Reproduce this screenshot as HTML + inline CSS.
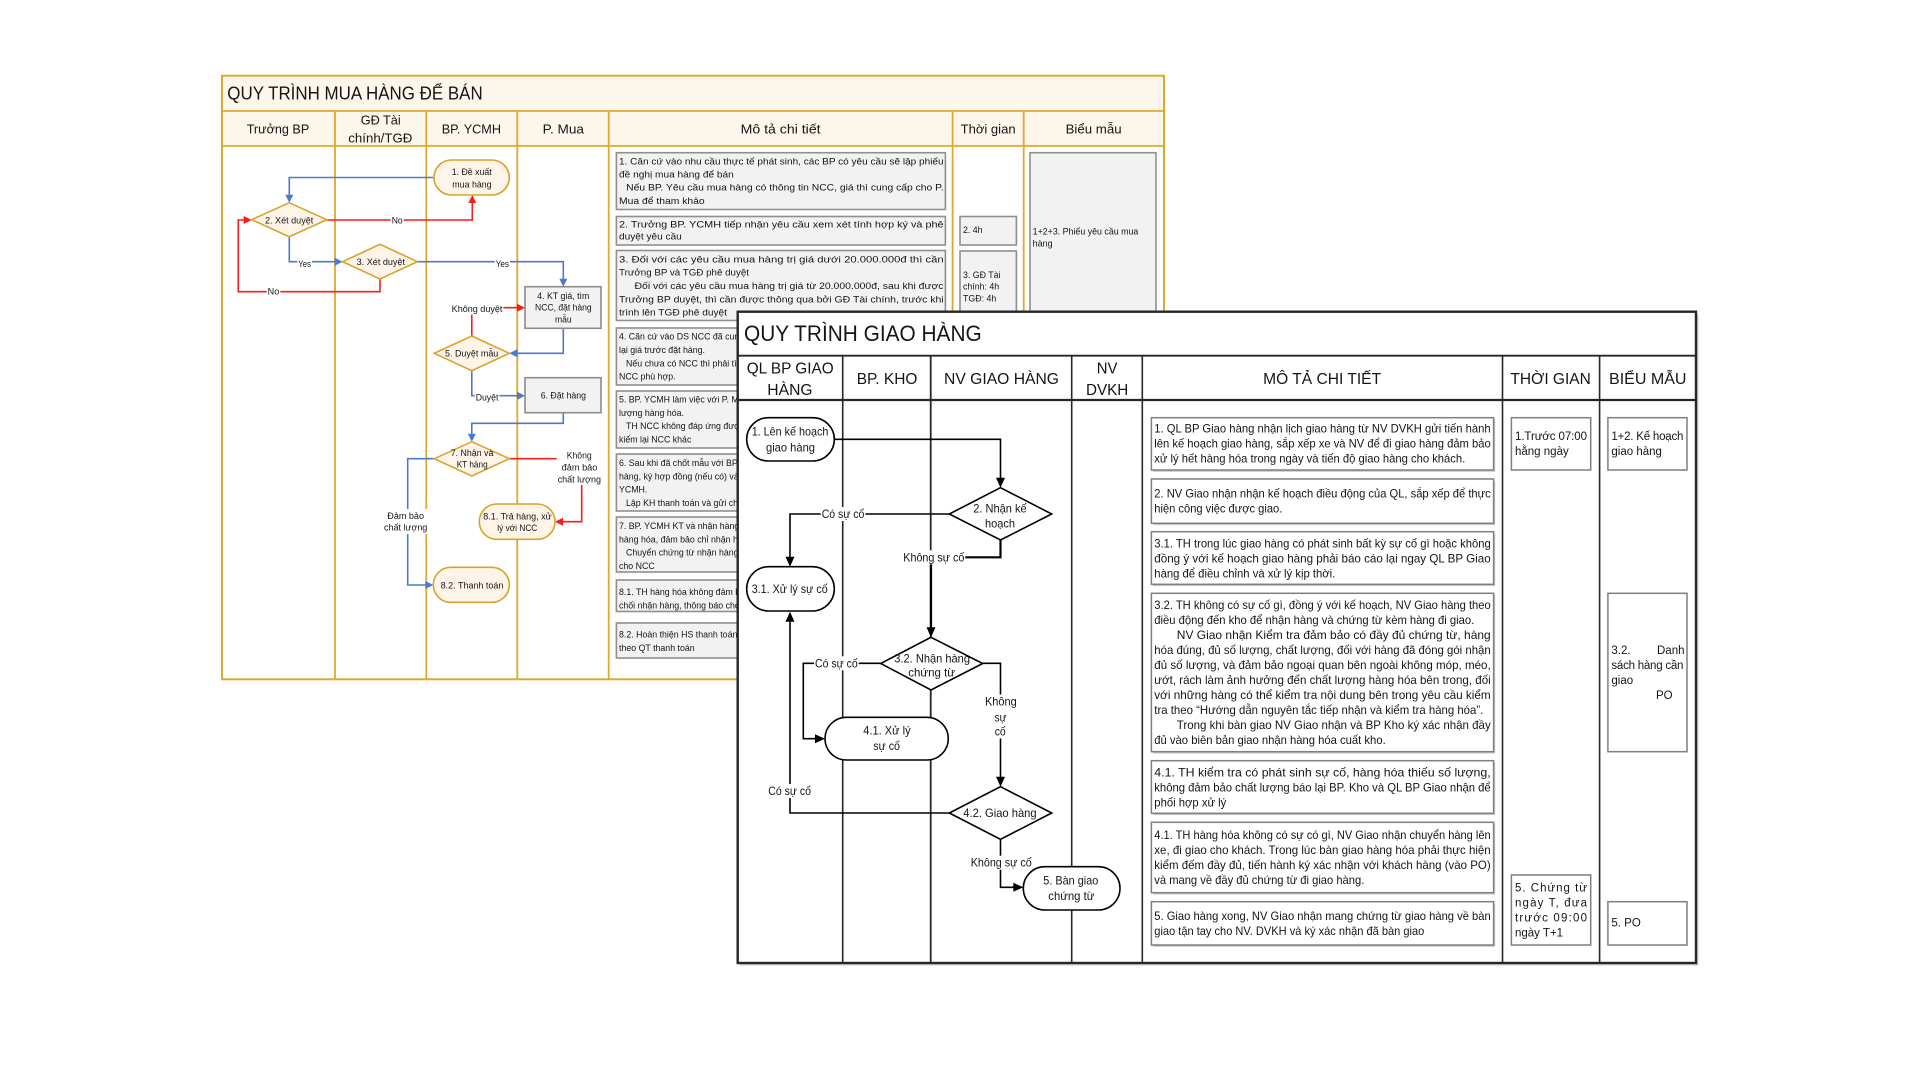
<!DOCTYPE html>
<html>
<head>
<meta charset="utf-8">
<style>
html,body{margin:0;padding:0;background:#fff;width:1920px;height:1080px;overflow:hidden}
svg{display:block}
text{font-family:"Liberation Sans","DejaVu Sans",sans-serif;fill:#151515}
.b9{font-size:9px}
.b88{font-size:8.8px}
.f12{font-size:12px}
.h13{font-size:13px}
.h15{font-size:15.5px}
</style>
</head>
<body>
<svg width="1920" height="1080" viewBox="0 0 1920 1080" xmlns="http://www.w3.org/2000/svg">
<rect x="0" y="0" width="1920" height="1080" fill="#fff"/>

<!-- ================= BACK DIAGRAM ================= -->
<g>
  <rect x="222" y="75.7" width="942" height="603.6" fill="#fff"/>
  <rect x="222" y="75.7" width="942" height="70.3" fill="#fdf6ea"/>
  <g stroke="#e0a82e" stroke-width="1.8" fill="none">
    <line x1="222" y1="111" x2="1164" y2="111"/>
    <line x1="222" y1="146" x2="1164" y2="146"/>
    <line x1="335" y1="111" x2="335" y2="679.3"/>
    <line x1="426.3" y1="111" x2="426.3" y2="679.3"/>
    <line x1="517.3" y1="111" x2="517.3" y2="679.3"/>
    <line x1="608.7" y1="111" x2="608.7" y2="679.3"/>
    <line x1="952.6" y1="111" x2="952.6" y2="679.3"/>
    <line x1="1023.7" y1="111" x2="1023.7" y2="679.3"/>
    <rect x="222" y="75.7" width="942" height="603.6" stroke-width="2"/>
  </g>
  <text x="227.3" y="99.3" style="font-size:18px" textLength="255.4" lengthAdjust="spacingAndGlyphs">QUY TRÌNH MUA HÀNG ĐỂ BÁN</text>
  <text class="h13" x="246.7" y="133.5" textLength="62.6" lengthAdjust="spacingAndGlyphs">Trưởng BP</text>
  <text class="h13" x="360.7" y="124.5" textLength="40" lengthAdjust="spacingAndGlyphs">GĐ Tài</text>
  <text class="h13" x="348.3" y="142.5" textLength="64" lengthAdjust="spacingAndGlyphs">chính/TGĐ</text>
  <text class="h13" x="441.7" y="133.5" textLength="59.3" lengthAdjust="spacingAndGlyphs">BP. YCMH</text>
  <text class="h13" x="542.7" y="133.5" textLength="41.3" lengthAdjust="spacingAndGlyphs">P. Mua</text>
  <text class="h13" x="740.6" y="133.5" textLength="80" lengthAdjust="spacingAndGlyphs">Mô tả chi tiết</text>
  <text class="h13" x="960.6" y="133.5" textLength="55" lengthAdjust="spacingAndGlyphs">Thời gian</text>
  <text class="h13" x="1065.6" y="133.5" textLength="56" lengthAdjust="spacingAndGlyphs">Biểu mẫu</text>

  <g fill="none" stroke-width="1.6">
    <path d="M434,177.5 H289.3 V196" stroke="#4a7ac8"/>
    <path d="M326.7,220 H472.3 V202" stroke="#ff1a1a"/>
    <path d="M289.3,236.7 V261.7 H336" stroke="#4a7ac8"/>
    <path d="M417.3,261.7 H563.3 V280" stroke="#4a7ac8"/>
    <path d="M380,279 V291.7 H238.3 V220 H245" stroke="#ff1a1a"/>
    <path d="M471.8,336 V307.7 H518" stroke="#ff1a1a"/>
    <path d="M563.3,328.3 V353.3 H516" stroke="#4a7ac8"/>
    <path d="M471.8,370.7 V395.7 H518" stroke="#4a7ac8"/>
    <path d="M563.3,412.7 V423.3 H471.8 V435" stroke="#4a7ac8"/>
    <path d="M434.3,458.7 H407.7 V585 H427" stroke="#4a7ac8"/>
    <path d="M509.3,458.7 H581.7 V521.7 H562" stroke="#ff1a1a"/>
  </g>
  <g>
    <polygon points="285.3,194.7 293.3,194.7 289.3,202.7" fill="#4a7ac8"/>
    <polygon points="468.3,203 476.3,203 472.3,195" fill="#ff1a1a"/>
    <polygon points="334.7,257.7 334.7,265.7 342.7,261.7" fill="#4a7ac8"/>
    <polygon points="559.3,278.7 567.3,278.7 563.3,286.7" fill="#4a7ac8"/>
    <polygon points="243.7,216 243.7,224 251.7,220" fill="#ff1a1a"/>
    <polygon points="517,303.7 517,311.7 525,307.7" fill="#ff1a1a"/>
    <polygon points="517.3,349.3 517.3,357.3 509.3,353.3" fill="#4a7ac8"/>
    <polygon points="517,391.7 517,399.7 525,395.7" fill="#4a7ac8"/>
    <polygon points="467.8,433.7 475.8,433.7 471.8,441.7" fill="#4a7ac8"/>
    <polygon points="425.3,581 425.3,589 433.3,585" fill="#4a7ac8"/>
    <polygon points="563,517.7 563,525.7 555,521.7" fill="#ff1a1a"/>
  </g>
  <g fill="#fff">
    <rect x="390.7" y="214" width="13" height="12"/>
    <rect x="297.3" y="258" width="14.7" height="12"/>
    <rect x="494.7" y="258" width="15.3" height="12"/>
    <rect x="266.7" y="285.5" width="13.6" height="12"/>
    <rect x="450.7" y="302.5" width="52.7" height="12"/>
    <rect x="474.7" y="391" width="24.7" height="12"/>
    <rect x="383" y="509" width="45.3" height="25"/>
    <rect x="556.7" y="448" width="45.3" height="37"/>
  </g>
  <g class="b9">
    <text x="391.7" y="223.3" textLength="11" lengthAdjust="spacingAndGlyphs">No</text>
    <text x="298.3" y="267" textLength="12.7" lengthAdjust="spacingAndGlyphs">Yes</text>
    <text x="495.7" y="267" textLength="13.3" lengthAdjust="spacingAndGlyphs">Yes</text>
    <text x="267.7" y="294.5" textLength="11.6" lengthAdjust="spacingAndGlyphs">No</text>
    <text x="451.7" y="312" textLength="50.7" lengthAdjust="spacingAndGlyphs">Không duyệt</text>
    <text x="475.7" y="400.6" textLength="22.7" lengthAdjust="spacingAndGlyphs">Duyệt</text>
    <text x="387.3" y="519" textLength="36.7" lengthAdjust="spacingAndGlyphs">Đảm bảo</text>
    <text x="384" y="530.6" textLength="43.3" lengthAdjust="spacingAndGlyphs">chất lượng</text>
    <text x="566.7" y="458.3" textLength="25" lengthAdjust="spacingAndGlyphs">Không</text>
    <text x="561.7" y="470.3" textLength="35.7" lengthAdjust="spacingAndGlyphs">đảm bảo</text>
    <text x="557.7" y="482.3" textLength="43.3" lengthAdjust="spacingAndGlyphs">chất lượng</text>
  </g>

  <g stroke="#d9a22a" stroke-width="1.6" fill="#fef5e8">
    <rect x="434" y="160" width="75.3" height="35" rx="17.5"/>
    <polygon points="289.2,202.7 326.7,219.7 289.2,236.7 251.7,219.7"/>
    <polygon points="380,244.3 417.3,261.7 380,279 342.7,261.7"/>
    <polygon points="471.8,336 509.3,353.3 471.8,370.7 434.3,353.3"/>
    <polygon points="471.8,441.7 509.3,458.7 471.8,476 434.3,458.7"/>
    <rect x="479.3" y="504" width="75.7" height="35.3" rx="17.6"/>
    <rect x="433.3" y="567.3" width="76" height="35" rx="17.5"/>
  </g>
  <g stroke="#8c8c8c" stroke-width="1.6" fill="#f2f2f2">
    <rect x="525" y="286.7" width="76" height="41.6"/>
    <rect x="525" y="377.7" width="76" height="35"/>
  </g>
  <g class="b9">
    <text x="451.7" y="175" textLength="40" lengthAdjust="spacingAndGlyphs">1. Đề xuất</text>
    <text x="452.3" y="187.3" textLength="39.3" lengthAdjust="spacingAndGlyphs">mua hàng</text>
    <text x="265" y="223.3" textLength="48.3" lengthAdjust="spacingAndGlyphs">2. Xét duyệt</text>
    <text x="356.7" y="265" textLength="48.3" lengthAdjust="spacingAndGlyphs">3. Xét duyệt</text>
    <text x="537.3" y="299" textLength="52" lengthAdjust="spacingAndGlyphs">4. KT giá, tìm</text>
    <text x="535" y="310.6" textLength="56.7" lengthAdjust="spacingAndGlyphs">NCC, đặt hàng</text>
    <text x="555" y="322.3" textLength="16.7" lengthAdjust="spacingAndGlyphs">mẫu</text>
    <text x="445" y="356.6" textLength="53.3" lengthAdjust="spacingAndGlyphs">5. Duyệt mẫu</text>
    <text x="540.7" y="398.3" textLength="45.3" lengthAdjust="spacingAndGlyphs">6. Đặt hàng</text>
    <text x="450.7" y="456" textLength="42.7" lengthAdjust="spacingAndGlyphs">7. Nhận và</text>
    <text x="456.7" y="467.6" textLength="31" lengthAdjust="spacingAndGlyphs">KT hàng</text>
    <text x="483.3" y="519.3" textLength="68.3" lengthAdjust="spacingAndGlyphs">8.1. Trả hàng, xử</text>
    <text x="497.3" y="531" textLength="40" lengthAdjust="spacingAndGlyphs">lý với NCC</text>
    <text x="440.7" y="588.3" textLength="62.7" lengthAdjust="spacingAndGlyphs">8.2. Thanh toán</text>
  </g>

  <g stroke="#8f8f8f" stroke-width="1.6" fill="#f2f2f2">
    <rect x="616.4" y="152.7" width="329" height="56.8"/>
    <rect x="616.4" y="216.5" width="329" height="28.5"/>
    <rect x="616.4" y="250.5" width="329" height="70"/>
    <rect x="616.4" y="328" width="329" height="57"/>
    <rect x="616.4" y="391" width="329" height="57"/>
    <rect x="616.4" y="454" width="329" height="57"/>
    <rect x="616.4" y="517" width="329" height="55"/>
    <rect x="616.4" y="580" width="329" height="31.5"/>
    <rect x="616.4" y="623" width="329" height="35"/>
    <rect x="960" y="216.5" width="56.4" height="28.5"/>
    <rect x="960" y="251" width="56.4" height="90"/>
    <rect x="1030" y="152.7" width="126" height="200"/>
  </g>
  <g class="b88">
    <text x="619" y="164.7" textLength="324.6" lengthAdjust="spacingAndGlyphs">1. Căn cứ vào nhu cầu thực tế phát sinh, các BP có yêu cầu sẽ lập phiếu</text>
    <text x="619" y="177.3" textLength="114.8" lengthAdjust="spacingAndGlyphs">đề nghị mua hàng để bán</text>
    <text x="626.2" y="190.7" textLength="317.4" lengthAdjust="spacingAndGlyphs">Nếu BP. Yêu cầu mua hàng có thông tin NCC, giá thì cung cấp cho P.</text>
    <text x="619" y="204" textLength="85.7" lengthAdjust="spacingAndGlyphs">Mua để tham khảo</text>
    <text x="619" y="227.3" textLength="324.6" lengthAdjust="spacingAndGlyphs">2. Trưởng BP. YCMH tiếp nhận yêu cầu xem xét tính hợp ký và phê</text>
    <text x="619" y="239.7" textLength="62.8" lengthAdjust="spacingAndGlyphs">duyệt yêu cầu</text>
    <text x="619" y="262.3" textLength="324.6" lengthAdjust="spacingAndGlyphs">3. Đối với các yêu cầu mua hàng trị giá dưới 20.000.000đ thì cần</text>
    <text x="619" y="275.7" textLength="130" lengthAdjust="spacingAndGlyphs">Trưởng BP và TGĐ phê duyệt</text>
    <text x="634.5" y="289" textLength="309" lengthAdjust="spacingAndGlyphs">Đối với các yêu cầu mua hàng trị giá từ 20.000.000đ, sau khi được</text>
    <text x="619" y="302.3" textLength="324.6" lengthAdjust="spacingAndGlyphs">Trưởng BP duyệt, thì cần được thông qua bởi GĐ Tài chính, trước khi</text>
    <text x="619" y="315.7" textLength="108" lengthAdjust="spacingAndGlyphs">trình lên TGĐ phê duyệt</text>

    <text x="619" y="339.7">4. Căn cứ vào DS NCC đã cung cấp, P. Mua tiến hành đàm phán</text>
    <text x="619" y="352.8">lại giá trước đặt hàng.</text>
    <text x="626" y="366.3">Nếu chưa có NCC thì phải tìm kiếm, lựa chọn các</text>
    <text x="619" y="379.3">NCC phù hợp.</text>
    <text x="619" y="402.6">5. BP. YCMH làm việc với P. Mua để xác nhận mẫu, chất</text>
    <text x="619" y="416">lượng hàng hóa.</text>
    <text x="626" y="429">TH NCC không đáp ứng được yêu cầu, P. Mua tìm</text>
    <text x="619" y="442.6">kiếm lại NCC khác</text>
    <text x="619" y="465.9">6. Sau khi đã chốt mẫu với BP. YCMH, P. Mua đặt</text>
    <text x="619" y="479.3">hàng, ký hợp đồng (nếu có) và thông báo cho BP.</text>
    <text x="619" y="492.4">YCMH.</text>
    <text x="626" y="505.9">Lập KH thanh toán và gửi cho BP. Kế toán</text>
    <text x="619" y="529">7. BP. YCMH KT và nhận hàng, đảm bảo số lượng</text>
    <text x="619" y="542.6">hàng hóa, đảm bảo chỉ nhận hàng đạt yêu cầu.</text>
    <text x="626" y="555.7">Chuyển chứng từ nhận hàng cho P. Mua</text>
    <text x="619" y="569">cho NCC</text>
    <text x="619" y="594.8">8.1. TH hàng hóa không đảm bảo chất lượng, từ</text>
    <text x="619" y="608.3">chối nhận hàng, thông báo cho P. Mua</text>
    <text x="619" y="637.3">8.2. Hoàn thiện HS thanh toán, chuyển cho Kế toán</text>
    <text x="619" y="650.8">theo QT thanh toán</text>

    <text x="963" y="233">2. 4h</text>
    <text x="963" y="278">3. GĐ Tài</text>
    <text x="963" y="289.7">chính: 4h</text>
    <text x="963" y="301.3">TGĐ: 4h</text>
    <text x="1032.7" y="234.7" textLength="105.6" lengthAdjust="spacingAndGlyphs">1+2+3. Phiếu yêu cầu mua</text>
    <text x="1032.7" y="246.3" textLength="20" lengthAdjust="spacingAndGlyphs">hàng</text>
  </g>
</g>

<!-- ================= FRONT DIAGRAM ================= -->
<g>
  <rect x="740" y="314" width="958.5" height="651.5" fill="#cfcfcf"/>
  <rect x="737.7" y="311.7" width="958.3" height="651.3" fill="#fff"/>
  <g stroke="#262626" fill="none">
    <line x1="737.7" y1="355.7" x2="1696" y2="355.7" stroke-width="1.8"/>
    <line x1="737.7" y1="400" x2="1696" y2="400" stroke-width="2.2"/>
    <line x1="842.7" y1="355.7" x2="842.7" y2="963" stroke-width="1.6"/>
    <line x1="930.7" y1="355.7" x2="930.7" y2="963" stroke-width="1.8"/>
    <line x1="1071.7" y1="355.7" x2="1071.7" y2="963" stroke-width="1.6"/>
    <line x1="1142.3" y1="355.7" x2="1142.3" y2="963" stroke-width="1.6"/>
    <line x1="1502.5" y1="355.7" x2="1502.5" y2="963" stroke-width="1.6"/>
    <line x1="1599.6" y1="355.7" x2="1599.6" y2="963" stroke-width="1.6"/>
    <rect x="737.7" y="311.7" width="958.3" height="651.3" stroke-width="2.4"/>
  </g>
  <text x="744" y="341" style="font-size:22px" textLength="237.7" lengthAdjust="spacingAndGlyphs">QUY TRÌNH GIAO HÀNG</text>
  <g class="h15">
    <text x="746.7" y="373.3" textLength="87" lengthAdjust="spacingAndGlyphs">QL BP GIAO</text>
    <text x="767.3" y="395" textLength="45.3" lengthAdjust="spacingAndGlyphs">HÀNG</text>
    <text x="856.7" y="384" textLength="60.7" lengthAdjust="spacingAndGlyphs">BP. KHO</text>
    <text x="944" y="384" textLength="115" lengthAdjust="spacingAndGlyphs">NV GIAO HÀNG</text>
    <text x="1096.7" y="373.3" textLength="20.7" lengthAdjust="spacingAndGlyphs">NV</text>
    <text x="1086" y="395" textLength="42.3" lengthAdjust="spacingAndGlyphs">DVKH</text>
    <text x="1263.2" y="384" textLength="117.9" lengthAdjust="spacingAndGlyphs">MÔ TẢ CHI TIẾT</text>
    <text x="1510.4" y="384" textLength="80.4" lengthAdjust="spacingAndGlyphs">THỜI GIAN</text>
    <text x="1609" y="384" textLength="77.5" lengthAdjust="spacingAndGlyphs">BIỂU MẪU</text>
  </g>

  <g fill="none" stroke="#000" stroke-width="1.6">
    <path d="M834.3,439.3 H1000.5 V479"/>
    <path d="M949.3,514 H790 V558"/>
    <path d="M1000.5,540 V557.3 H931 V628" stroke-width="2.2"/>
    <path d="M880.7,663.3 H803.3 V738.7 H816"/>
    <path d="M982.7,663.3 H1000.5 V778"/>
    <path d="M949.3,813 H790 V620"/>
    <path d="M1000.5,839.3 V887.3 H1014"/>
  </g>
  <g fill="#000">
    <polygon points="996,477.7 1005,477.7 1000.5,487.7"/>
    <polygon points="785.5,556.7 794.5,556.7 790,566.7"/>
    <polygon points="926.5,627.3 935.5,627.3 931,637.3"/>
    <polygon points="815,734.2 815,743.2 825,738.7"/>
    <polygon points="996,776.7 1005,776.7 1000.5,786.7"/>
    <polygon points="785.5,621.7 794.5,621.7 790,611.7"/>
    <polygon points="1013.3,882.8 1013.3,891.8 1023.3,887.3"/>
  </g>
  <g fill="#fff">
    <rect x="820.7" y="507" width="44.7" height="14"/>
    <rect x="902.3" y="550.3" width="63" height="14"/>
    <rect x="814" y="656.3" width="44.7" height="14"/>
    <rect x="983.5" y="694.5" width="34.7" height="44"/>
    <rect x="767.3" y="784" width="44.7" height="14"/>
    <rect x="969.7" y="855.7" width="63" height="14"/>
  </g>
  <g class="f12">
    <text x="821.7" y="518" textLength="42.7" lengthAdjust="spacingAndGlyphs">Có sự cố</text>
    <text x="903.3" y="561.3" textLength="61" lengthAdjust="spacingAndGlyphs">Không sự cố</text>
    <text x="815" y="667.3" textLength="42.7" lengthAdjust="spacingAndGlyphs">Có sự cố</text>
    <text x="985" y="705.7" textLength="31.7" lengthAdjust="spacingAndGlyphs">Không</text>
    <text x="994.5" y="721.3" textLength="12" lengthAdjust="spacingAndGlyphs">sự</text>
    <text x="994.7" y="735.7" textLength="11" lengthAdjust="spacingAndGlyphs">cố</text>
    <text x="768.3" y="795" textLength="42.7" lengthAdjust="spacingAndGlyphs">Có sự cố</text>
    <text x="970.7" y="866.7" textLength="61" lengthAdjust="spacingAndGlyphs">Không sự cố</text>
  </g>

  <g stroke="#000" stroke-width="1.6" fill="#fff">
    <rect x="746.7" y="417.7" width="87.6" height="43.3" rx="21.6"/>
    <polygon points="1000.5,487.7 1051.7,514 1000.5,540 949.3,514"/>
    <rect x="746.7" y="566.7" width="87.6" height="44.3" rx="22"/>
    <polygon points="931,637.3 982.7,663.5 931,690 880.7,663.5"/>
    <rect x="825" y="717.3" width="123.3" height="42.7" rx="21.3"/>
    <polygon points="1000.5,786.7 1051.7,813 1000.5,839.3 949.3,813"/>
    <rect x="1023.3" y="866.7" width="96.7" height="43.3" rx="21.6"/>
  </g>
  <g class="f12">
    <text x="751.7" y="435.7" textLength="76.7" lengthAdjust="spacingAndGlyphs">1. Lên kế hoạch</text>
    <text x="766" y="451.3" textLength="49" lengthAdjust="spacingAndGlyphs">giao hàng</text>
    <text x="973.3" y="512.3" textLength="53.3" lengthAdjust="spacingAndGlyphs">2. Nhận kế</text>
    <text x="985" y="527.3" textLength="30" lengthAdjust="spacingAndGlyphs">hoạch</text>
    <text x="751.7" y="593" textLength="76" lengthAdjust="spacingAndGlyphs">3.1. Xử lý sự cố</text>
    <text x="894.3" y="662.3" textLength="75.7" lengthAdjust="spacingAndGlyphs">3.2. Nhận hàng</text>
    <text x="908.3" y="676.7" textLength="46.7" lengthAdjust="spacingAndGlyphs">chứng từ</text>
    <text x="863.3" y="734.7" textLength="47.3" lengthAdjust="spacingAndGlyphs">4.1. Xử lý</text>
    <text x="873.3" y="750" textLength="26.7" lengthAdjust="spacingAndGlyphs">sự cố</text>
    <text x="963.3" y="817" textLength="73.3" lengthAdjust="spacingAndGlyphs">4.2. Giao hàng</text>
    <text x="1043.3" y="884.7" textLength="55" lengthAdjust="spacingAndGlyphs">5. Bàn giao</text>
    <text x="1048.3" y="900" textLength="46" lengthAdjust="spacingAndGlyphs">chứng từ</text>
  </g>

  <g fill="#c8c8c8">
    <rect x="1153" y="419.5" width="342.2" height="52.3"/>
    <rect x="1153" y="480.8" width="342.2" height="44.3"/>
    <rect x="1153" y="533.5" width="342.2" height="52.6"/>
    <rect x="1153" y="595.1" width="342.2" height="158.4"/>
    <rect x="1153" y="762.5" width="342.2" height="52.6"/>
    <rect x="1153" y="824.1" width="342.2" height="70.4"/>
    <rect x="1153" y="903.5" width="342.2" height="43.3"/>
  </g>
  <g stroke="#7f7f7f" stroke-width="1.5" fill="#fff">
    <rect x="1151.4" y="417.7" width="342.2" height="52.3"/>
    <rect x="1151.4" y="479" width="342.2" height="44.3"/>
    <rect x="1151.4" y="531.7" width="342.2" height="52.6"/>
    <rect x="1151.4" y="593.3" width="342.2" height="158.4"/>
    <rect x="1151.4" y="760.7" width="342.2" height="52.6"/>
    <rect x="1151.4" y="822.3" width="342.2" height="70.4"/>
    <rect x="1151.4" y="901.7" width="342.2" height="43.3"/>
    <rect x="1511.4" y="417.7" width="79.3" height="52.3"/>
    <rect x="1511.4" y="875" width="79.3" height="70"/>
    <rect x="1607.9" y="417.7" width="79.1" height="52.3"/>
    <rect x="1607.9" y="593.3" width="79.1" height="158.4"/>
    <rect x="1607.9" y="901.7" width="79.1" height="43.3"/>
  </g>
  <g class="f12">
    <text x="1154.3" y="432.3" textLength="336.4" lengthAdjust="spacingAndGlyphs">1. QL BP Giao hàng nhận lịch giao hàng từ NV DVKH gửi tiến hành</text>
    <text x="1154.3" y="447.3" textLength="336.4" lengthAdjust="spacingAndGlyphs">lên kế hoạch giao hàng, sắp xếp xe và NV để đi giao hàng đảm bảo</text>
    <text x="1154.3" y="462.3" textLength="311" lengthAdjust="spacingAndGlyphs">xử lý hết hàng hóa trong ngày và tiến độ giao hàng cho khách.</text>

    <text x="1154.3" y="497.3" textLength="336.4" lengthAdjust="spacingAndGlyphs">2. NV Giao nhận nhận kế hoạch điều động của QL, sắp xếp để thực</text>
    <text x="1154.3" y="512.3" textLength="128" lengthAdjust="spacingAndGlyphs">hiện công việc được giao.</text>

    <text x="1154.3" y="547.3" textLength="336.4" lengthAdjust="spacingAndGlyphs">3.1. TH trong lúc giao hàng có phát sinh bất kỳ sự cố gì hoặc không</text>
    <text x="1154.3" y="562.3" textLength="336.4" lengthAdjust="spacingAndGlyphs">đồng ý với kế hoạch giao hàng phải báo cáo lại ngay QL BP Giao</text>
    <text x="1154.3" y="577.3" textLength="181" lengthAdjust="spacingAndGlyphs">hàng để điều chỉnh và xử lý kịp thời.</text>

    <text x="1154.3" y="609" textLength="336.4" lengthAdjust="spacingAndGlyphs">3.2. TH không có sự cố gì, đồng ý với kế hoạch, NV Giao hàng theo</text>
    <text x="1154.3" y="624" textLength="320" lengthAdjust="spacingAndGlyphs">điều động đến kho để nhận hàng và chứng từ kèm hàng đi giao.</text>
    <text x="1176.8" y="639" textLength="313.9" lengthAdjust="spacingAndGlyphs">NV Giao nhận Kiểm tra đảm bảo có đầy đủ chứng từ, hàng</text>
    <text x="1154.3" y="654" textLength="336.4" lengthAdjust="spacingAndGlyphs">hóa đúng, đủ số lượng, chất lượng, đối với hàng đã đóng gói nhận</text>
    <text x="1154.3" y="669" textLength="336.4" lengthAdjust="spacingAndGlyphs">đủ số lượng, và đảm bảo ngoại quan bên ngoài không móp, méo,</text>
    <text x="1154.3" y="684" textLength="336.4" lengthAdjust="spacingAndGlyphs">ướt, rách làm ảnh hưởng đến chất lượng hàng hóa bên trong, đối</text>
    <text x="1154.3" y="699" textLength="336.4" lengthAdjust="spacingAndGlyphs">với những hàng có thể kiểm tra nội dung bên trong yêu cầu kiểm</text>
    <text x="1154.3" y="714" textLength="329" lengthAdjust="spacingAndGlyphs">tra theo “Hướng dẫn nguyên tắc tiếp nhận và kiểm tra hàng hóa”.</text>
    <text x="1176.8" y="729" textLength="313.9" lengthAdjust="spacingAndGlyphs">Trong khi bàn giao NV Giao nhận và BP Kho ký xác nhận đầy</text>
    <text x="1154.3" y="744" textLength="231.4" lengthAdjust="spacingAndGlyphs">đủ vào biên bản giao nhận hàng hóa cuất kho.</text>

    <text x="1154.3" y="776.3" textLength="336.4" lengthAdjust="spacingAndGlyphs">4.1. TH kiểm tra có phát sinh sự cố, hàng hóa thiếu số lượng,</text>
    <text x="1154.3" y="791.3" textLength="336.4" lengthAdjust="spacingAndGlyphs">không đảm bảo chất lượng báo lại BP. Kho và QL BP Giao nhận để</text>
    <text x="1154.3" y="806.3" textLength="72" lengthAdjust="spacingAndGlyphs">phối hợp xử lý</text>

    <text x="1154.3" y="839" textLength="336.4" lengthAdjust="spacingAndGlyphs">4.1. TH hàng hóa không có sự có gì, NV Giao nhận chuyển hàng lên</text>
    <text x="1154.3" y="854" textLength="336.4" lengthAdjust="spacingAndGlyphs">xe, đi giao cho khách. Trong lúc bàn giao hàng hóa phải thực hiện</text>
    <text x="1154.3" y="869" textLength="336.4" lengthAdjust="spacingAndGlyphs">kiểm đếm đầy đủ, tiến hành ký xác nhận với khách hàng (vào PO)</text>
    <text x="1154.3" y="884" textLength="210" lengthAdjust="spacingAndGlyphs">và mang về đầy đủ chứng từ đi giao hàng.</text>

    <text x="1154.3" y="920" textLength="336.4" lengthAdjust="spacingAndGlyphs">5. Giao hàng xong, NV Giao nhận mang chứng từ giao hàng về bàn</text>
    <text x="1154.3" y="935" textLength="270" lengthAdjust="spacingAndGlyphs">giao tận tay cho NV. DVKH và ký xác nhận đã bàn giao</text>
  </g>
  <g style="font-size:11.5px">
    <text x="1515" y="440" textLength="72" lengthAdjust="spacing">1.Trước 07:00</text>
    <text x="1515" y="455">hằng ngày</text>
    <text x="1515" y="891.7" textLength="72" lengthAdjust="spacing">5. Chứng từ</text>
    <text x="1515" y="906.7" textLength="72" lengthAdjust="spacing">ngày T, đưa</text>
    <text x="1515" y="921.3" textLength="72" lengthAdjust="spacing">trước 09:00</text>
    <text x="1515" y="936.7">ngày T+1</text>

    <text x="1611.4" y="440" textLength="72" lengthAdjust="spacing">1+2. Kế hoạch</text>
    <text x="1611.4" y="455">giao hàng</text>
    <text x="1611.4" y="654">3.2.</text>
    <text x="1657" y="654">Danh</text>
    <text x="1611.4" y="669" textLength="72" lengthAdjust="spacing">sách hàng cần</text>
    <text x="1611.4" y="684">giao</text>
    <text x="1656" y="699">PO</text>
    <text x="1611.4" y="926.7">5. PO</text>
  </g>
</g>
</svg>
</body>
</html>
